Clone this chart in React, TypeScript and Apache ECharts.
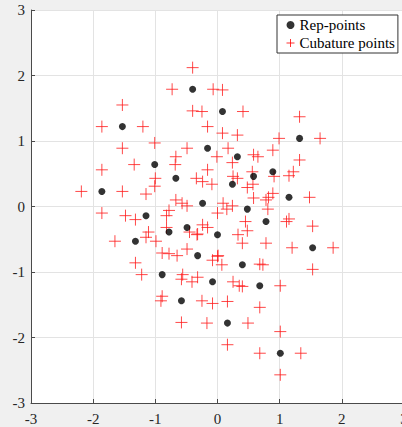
import React, { useEffect, useRef } from "react";
import * as echarts from "echarts";

const xTicks = [-3, -2, -1, 0, 1, 2, 3];
const yTicks = [-3, -2, -1, 0, 1, 2, 3];

const repPoints: [number, number][] = [
  [-0.40, 1.79], [0.08, 1.45], [-1.53, 1.22], [1.32, 1.04], [-0.16, 0.89],
  [0.32, 0.76], [-1.01, 0.64], [0.89, 0.53], [0.58, 0.46], [-0.67, 0.43],
  [0.24, 0.34], [-1.86, 0.23], [1.15, 0.14], [-0.24, 0.05], [0.48, -0.04],
  [-1.15, -0.14], [0.78, -0.23], [-0.49, -0.32], [-0.78, -0.39], [0.00, -0.43],
  [-1.32, -0.53], [1.53, -0.63], [-0.32, -0.75], [0.40, -0.89], [-0.89, -1.04],
  [-0.08, -1.15], [0.68, -1.21], [-0.58, -1.44], [0.16, -1.78], [1.01, -2.24],
];

const cubaturePoints: [number, number][] = [
  [-0.40, 2.12], [-0.73, 1.79], [-0.07, 1.79], [-0.40, 1.46],
  [0.08, 1.78], [-0.25, 1.45], [0.41, 1.45], [0.08, 1.12],
  [-1.53, 1.55], [-1.86, 1.22], [-1.20, 1.22], [-1.53, 0.89],
  [1.32, 1.37], [0.99, 1.04], [1.65, 1.04], [1.32, 0.71],
  [-0.16, 1.22], [-0.49, 0.89], [0.17, 0.89], [-0.16, 0.56],
  [0.32, 1.09], [-0.01, 0.76], [0.65, 0.76], [0.32, 0.43],
  [-1.01, 0.97], [-1.34, 0.64], [-0.68, 0.64], [-1.01, 0.31],
  [0.89, 0.86], [0.56, 0.53], [1.22, 0.53], [0.89, 0.20],
  [0.58, 0.79], [0.25, 0.46], [0.91, 0.46], [0.58, 0.13],
  [-0.67, 0.76], [-1.00, 0.43], [-0.34, 0.43], [-0.67, 0.10],
  [0.24, 0.67], [-0.09, 0.34], [0.57, 0.34], [0.24, 0.01],
  [-1.86, 0.56], [-2.19, 0.23], [-1.53, 0.23], [-1.86, -0.10],
  [1.15, 0.47], [0.82, 0.14], [1.48, 0.14], [1.15, -0.19],
  [-0.24, 0.38], [-0.57, 0.05], [0.09, 0.05], [-0.24, -0.28],
  [0.48, 0.29], [0.15, -0.04], [0.81, -0.04], [0.48, -0.37],
  [-1.15, 0.19], [-1.48, -0.14], [-0.82, -0.14], [-1.15, -0.47],
  [0.78, 0.10], [0.45, -0.23], [1.11, -0.23], [0.78, -0.56],
  [-0.49, 0.01], [-0.82, -0.32], [-0.16, -0.32], [-0.49, -0.65],
  [-0.78, -0.06], [-1.11, -0.39], [-0.45, -0.39], [-0.78, -0.72],
  [0.00, -0.10], [-0.33, -0.43], [0.33, -0.43], [0.00, -0.76],
  [-1.32, -0.20], [-1.65, -0.53], [-0.99, -0.53], [-1.32, -0.86],
  [1.53, -0.30], [1.20, -0.63], [1.86, -0.63], [1.53, -0.96],
  [-0.32, -0.42], [-0.65, -0.75], [0.01, -0.75], [-0.32, -1.08],
  [0.40, -0.56], [0.07, -0.89], [0.73, -0.89], [0.40, -1.22],
  [-0.89, -0.71], [-1.22, -1.04], [-0.56, -1.04], [-0.89, -1.37],
  [-0.08, -0.82], [-0.41, -1.15], [0.25, -1.15], [-0.08, -1.48],
  [0.68, -0.88], [0.35, -1.21], [1.01, -1.21], [0.68, -1.54],
  [-0.58, -1.11], [-0.91, -1.44], [-0.25, -1.44], [-0.58, -1.77],
  [0.16, -1.45], [-0.17, -1.78], [0.49, -1.78], [0.16, -2.11],
  [1.01, -1.91], [0.68, -2.24], [1.34, -2.24], [1.01, -2.57],
];

const PLUS = "path://M0,6L12,6M6,0L6,12";
const FONT = "Liberation Serif";

export default function App() {
  const ref = useRef<HTMLDivElement>(null);
  useEffect(() => {
    if (!ref.current) return;
    const chart = echarts.init(ref.current, undefined, { renderer: "svg" });
    const axisCommon = {
      min: xTicks[0],
      max: xTicks[xTicks.length - 1],
      interval: 1,
      axisLine: { show: true, onZero: false, lineStyle: { color: "#4a4a4a", width: 1 } },
      axisTick: { show: true, inside: true, length: 4, lineStyle: { color: "#4a4a4a" } },
      splitLine: { show: true, lineStyle: { color: "#e3e3e3", width: 1 } },
      axisLabel: {
        color: "#262626",
        fontFamily: FONT,
        fontSize: 15,
        showMinLabel: true,
        showMaxLabel: true,
      },
    };
    chart.setOption({
      animation: false,
      backgroundColor: "#f0f0f0",
      grid: {
        left: 31,
        top: 10,
        width: 373,
        height: 393,
        show: true,
        backgroundColor: "#ffffff",
        borderWidth: 0,
        containLabel: false,
        outerBoundsMode: "none",
      },
      xAxis: {
        type: "value",
        ...axisCommon,
        axisLabel: { ...axisCommon.axisLabel, margin: 8 },
      },
      yAxis: {
        type: "value",
        ...axisCommon,
        min: yTicks[0],
        max: yTicks[yTicks.length - 1],
        axisLabel: { ...axisCommon.axisLabel, margin: 6 },
      },
      legend: {
        orient: "vertical",
        left: 277,
        top: 15,
        padding: [2, 3, 2, 7],
        itemWidth: 8,
        itemHeight: 8,
        itemGap: 2,
        backgroundColor: "#ffffff",
        borderColor: "#333333",
        borderWidth: 1,
        textStyle: { fontFamily: FONT, fontSize: 15, color: "#000", lineHeight: 16 },
        data: [
          { name: "Rep-points", icon: "circle", itemStyle: { color: "#000", borderWidth: 0 } },
          {
            name: "Cubature points",
            icon: PLUS,
            itemStyle: { color: "none", borderColor: "#ff0000", borderWidth: 1 },
          },
        ],
      },
      series: [
        {
          name: "Rep-points",
          type: "scatter",
          data: repPoints,
          symbol: "circle",
          symbolSize: 7,
          itemStyle: { color: "#000000" },
          emphasis: { disabled: true },
          z: 3,
        },
        {
          name: "Cubature points",
          type: "scatter",
          data: cubaturePoints,
          symbol: PLUS,
          symbolSize: 12,
          itemStyle: { color: "none", borderColor: "#ff1a1a", borderWidth: 1 },
          emphasis: { disabled: true },
          z: 2,
        },
      ],
    });
    return () => chart.dispose();
  }, []);
  return (
    <div
      ref={ref}
      style={{ position: "absolute", left: 0, top: 0, width: 402, height: 427 }}
    />
  );
}
